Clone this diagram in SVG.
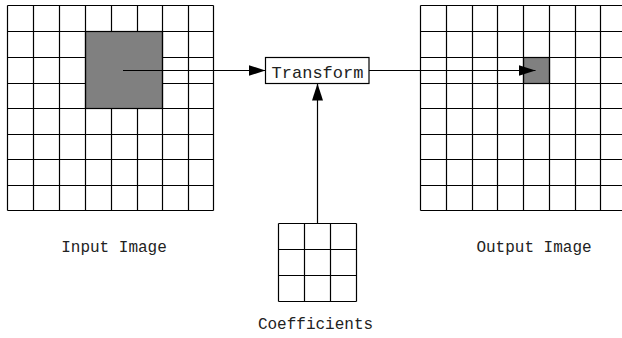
<svg xmlns="http://www.w3.org/2000/svg" width="622" height="338" viewBox="0 0 622 338">
<style>
.grid{fill:none;stroke:#000;stroke-width:1.2}
.gray{fill:#808080;stroke:#000;stroke-width:1.2}
.lbl{font-family:"Liberation Mono","Courier New",monospace;font-size:16px;fill:#222;text-anchor:middle}
.conn{fill:none;stroke:#000;stroke-width:1.2}
.box{fill:#fff;stroke:#000;stroke-width:1.2}
</style>
<defs>
<marker id="ah" markerUnits="userSpaceOnUse" markerWidth="18" markerHeight="12" refX="17" refY="5.5" orient="auto">
<path d="M0,0 L17,5.5 L0,11 z" fill="#000"/>
</marker>
</defs>
<rect width="622" height="338" fill="#fff"/>
<g id="input-image">
<rect class="gray" x="85.5" y="31.5" width="77" height="77"/>
<path class="grid" d="M7.5,5.5V210.5M33.5,5.5V210.5M59.5,5.5V210.5M85.5,5.5V210.5M111.5,5.5V31.5M111.5,108.5V210.5M137.5,5.5V31.5M137.5,108.5V210.5M162.5,5.5V210.5M188.5,5.5V210.5M213.5,5.5V210.5
M7.5,5.5H213.5M7.5,31.5H213.5M7.5,57.5H85.5M162.5,57.5H213.5M7.5,83.5H85.5M162.5,83.5H213.5M7.5,108.5H213.5M7.5,134.5H213.5M7.5,159.5H213.5M7.5,185.5H213.5M7.5,210.5H213.5"/>
<text class="lbl" x="114" y="252">Input Image</text>
</g>
<g id="output-image">
<rect class="gray" x="523.5" y="57.5" width="26" height="26"/>
<path class="grid" d="M420.5,5.5V210.5M446.5,5.5V210.5M472.5,5.5V210.5M497.5,5.5V210.5M523.5,5.5V210.5M549.5,5.5V210.5M575.5,5.5V210.5M600.5,5.5V210.5
M420.5,5.5H630M420.5,31.5H630M420.5,57.5H630M420.5,83.5H630M420.5,108.5H630M420.5,134.5H630M420.5,159.5H630M420.5,185.5H630M420.5,210.5H630"/>
<text class="lbl" x="534" y="251.5">Output Image</text>
</g>
<g id="coefficients">
<path class="grid" d="M278.5,223.5V301.5M304.5,223.5V301.5M330.5,223.5V301.5M356.5,223.5V301.5M278.5,223.5H356.5M278.5,249.5H356.5M278.5,275.5H356.5M278.5,301.5H356.5"/>
<text class="lbl" x="315.5" y="329">Coefficients</text>
</g>
<g id="connectors">
<path class="conn" d="M123,70.5H265.5" marker-end="url(#ah)"/>
<path class="conn" d="M369,70.5H535.5" marker-end="url(#ah)"/>
<path class="conn" d="M317.5,223.5V83.5" marker-end="url(#ah)"/>
</g>
<g id="transform">
<rect class="box" x="265.5" y="57.5" width="103.5" height="26"/>
<text class="lbl" x="317.5" y="77.5" style="font-size:17px">Transform</text>
</g>
</svg>
